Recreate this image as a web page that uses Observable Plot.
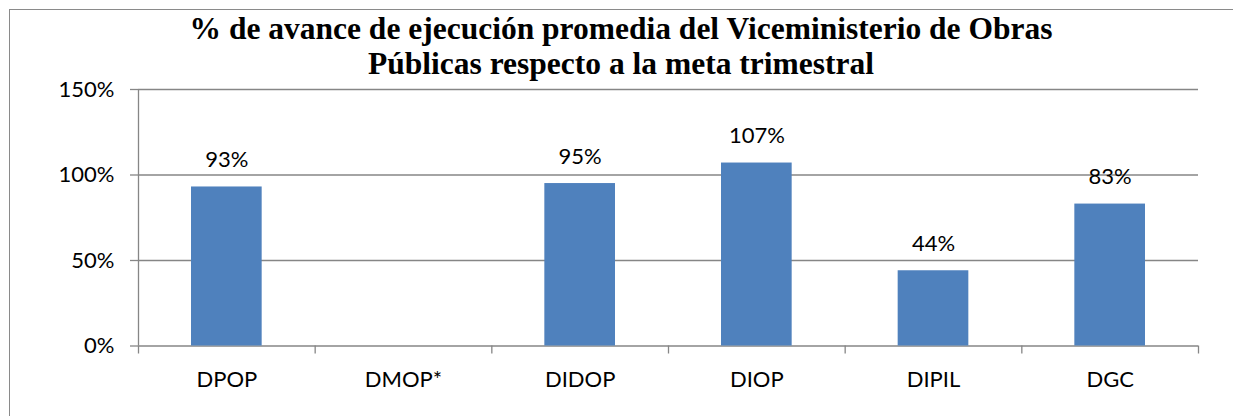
<!DOCTYPE html>
<html>
<head>
<meta charset="utf-8">
<script src="https://cdn.jsdelivr.net/npm/d3@7"></script>
<script src="https://cdn.jsdelivr.net/npm/@observablehq/plot@0.6"></script>
<style>
  html, body { margin: 0; padding: 0; background: #fff; overflow: hidden; }
  #wrap { position: relative; width: 1233px; height: 416px; }
  #frame { position: absolute; left: 9px; top: 9px; width: 1400px; height: 600px; border: 1.5px solid #8a8a8a; box-sizing: border-box; }
  #title { position: absolute; left: 9px; top: 11px; width: 1224px; text-align: center;
           font-family: "Liberation Serif", serif; font-weight: bold; font-size: 31.5px; line-height: 35px; color: #000; }
  #chart { position: absolute; left: 0; top: 0; }
</style>
</head>
<body>
<div id="wrap">
  <div id="frame"></div>
  <div id="chart"></div>
  <div id="title">% de avance de ejecución promedia del Viceministerio de Obras<br>Públicas respecto a la meta trimestral</div>
</div>
<script>
const categories = ["DPOP", "DMOP*", "DIDOP", "DIOP", "DIPIL", "DGC"];
const values = [0.93, null, 0.95, 1.07, 0.44, 0.83];
const yTicks = [0, 0.5, 1, 1.5];

const data = categories.map((c, i) => ({ i, category: c, value: values[i] }));
const withValue = data.filter(d => d.value != null);
const gray = "#868686";
const font = "Lato, 'Open Sans', sans-serif";

const chart = Plot.plot({
  width: 1233,
  height: 416,
  marginLeft: 138,
  marginRight: 35,
  marginTop: 89,
  marginBottom: 70.5,
  style: { fontFamily: font, fontSize: "22px", color: "#000", background: "transparent", overflow: "visible" },
  x: { domain: [0, categories.length] },
  y: { domain: [0, 1.5] },
  marks: [
    Plot.ruleY(yTicks, { stroke: gray, strokeWidth: 1.3 }),
    Plot.ruleX([0], { y1: 0, y2: 1.5, stroke: gray, strokeWidth: 1.3 }),
    Plot.axisY({ ticks: yTicks, tickSize: 8, tickPadding: 16, tickFormat: d => Math.round(d * 100) + "%", label: null,
                 stroke: gray, strokeWidth: 1.3, fill: "#000", fontSize: 22 }),
    Plot.axisX({ ticks: d3.range(categories.length + 1), tickSize: 8, tickFormat: () => "", label: null, stroke: gray, strokeWidth: 1.3 }),
    Plot.axisX({ ticks: data.map(d => d.i + 0.5), tickSize: 0, tickPadding: 25, label: null,
                 tickFormat: t => categories[Math.floor(t)], fill: "#000", fontSize: 22 }),
    Plot.rectY(withValue, { x1: d => d.i + 0.3, x2: d => d.i + 0.7, y: "value", fill: "#4F81BD" }),
    Plot.text(withValue, { x: d => d.i + 0.5, y: "value", text: d => Math.round(d.value * 100) + "%",
                           dy: -27, fill: "#000", fontSize: 22 })
  ]
});
document.getElementById("chart").appendChild(chart);
</script>
</body>
</html>
